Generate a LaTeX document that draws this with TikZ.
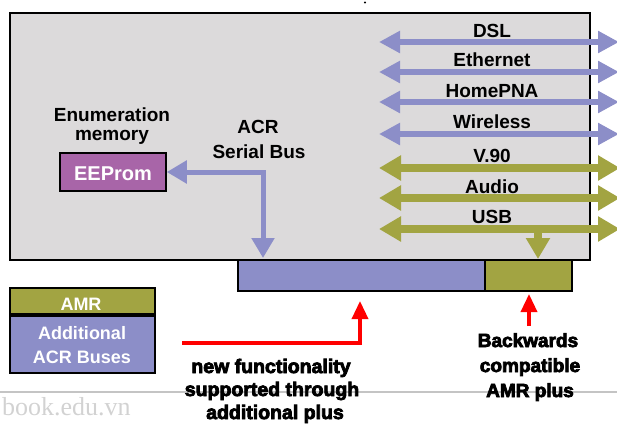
\documentclass[tikz,border=0pt]{standalone}
\usepackage{fontspec}
\setmainfont{Liberation Sans}
\newfontfamily\heavyfont[FakeBold=4]{Liberation Sans}
\newfontfamily\markfont{Liberation Serif}
\usetikzlibrary{arrows.meta}

\definecolor{busblue}{HTML}{8C8EC8}
\definecolor{amrgreen}{HTML}{A2A442}
\definecolor{eepurple}{HTML}{A865A8}
\definecolor{panelgray}{HTML}{DCDADB}
\definecolor{rulegray}{HTML}{C4C4C4}
\definecolor{markgray}{HTML}{D2D2D2}

\begin{document}
\begin{tikzpicture}[x=1pt,y=-1pt,
  lbl/.style={font=\fontsize{19}{22}\selectfont\bfseries, inner sep=0pt, anchor=base},
  whitelbl/.style={lbl, text=white},
  heavy/.style={font=\heavyfont\fontsize{19.5}{22}\selectfont\bfseries, inner sep=0pt, anchor=base},
  slotbox/.style={draw=black, line width=1.5pt, inner sep=0pt},
  legendbox/.style={draw=black, line width=2.5pt, inner sep=0pt, minimum width=145pt},
  bluebus/.style={draw=busblue, line width=6pt,
    {Triangle[length=21pt,width=21pt]}-{Triangle[length=21pt,width=21pt]}},
  greenbus/.style={draw=amrgreen, line width=8pt,
    {Triangle[length=22pt,width=24pt]}-{Triangle[length=22pt,width=24pt]}},
  serialbus/.style={draw=busblue, line width=5pt,
    {Triangle[length=20pt,width=22pt]}-{Triangle[length=20pt,width=22pt]}},
  drop/.style={draw=amrgreen, line width=8pt, -{Triangle[length=21pt,width=23pt]}},
  redarrow/.style={draw=red, line width=3.5pt, -{Triangle[length=18pt,width=16pt]}}
]
\useasboundingbox (0,0) rectangle (617,426);
\clip (0,0) rectangle (617,426);

% main card
\node[draw=black, line width=1.8pt, fill=panelgray, minimum width=580pt,
      minimum height=247pt, inner sep=0pt] (card) at (300,136.5) {};
\fill (365,2.5) circle (1.2pt);

% enumeration memory
\node[lbl] (enumA) at (112,121) {Enumeration};
\node[lbl] (enumB) at (112,140) {memory};
\node[slotbox, fill=eepurple, minimum width=106pt, minimum height=38pt] (eeprom) at (113,172) {};
\node[font=\fontsize{20}{22}\selectfont\bfseries, text=white, inner sep=0pt, anchor=base] (eetext) at (113,180) {EEProm};

\node[lbl] (acrA) at (258,133) {ACR};
\node[lbl] (acrB) at (259,158) {Serial Bus};

% expansion slots
\node[slotbox, fill=busblue, minimum width=247pt, minimum height=31pt] (acrslot) at (361.5,275.5) {};
\node[slotbox, fill=amrgreen, minimum width=87pt, minimum height=31pt] (amrslot) at (528.5,275.5) {};

% ACR serial bus to the EEPROM
\coordinate (acrdrop) at (263,258);
\draw[serialbus] (acrdrop) |- (eeprom.east);

% external interfaces
\foreach \name/\txt/\base/\y in {dsl/DSL/37/42, eth/Ethernet/66/72, hpna/HomePNA/97/102, wl/Wireless/128/134}{
  \node[lbl] (\name) at (492,\base) {\txt};
  \coordinate (\name L) at (379,\y);
  \coordinate (\name R) at (619,\y);
  \draw[bluebus] (\name L) -- (\name R);
}
\foreach \name/\txt/\base/\y in {vn/V.90/162/168, aud/Audio/193/198, usb/USB/223/229}{
  \node[lbl] (\name) at (492,\base) {\txt};
  \coordinate (\name L) at (379,\y);
  \coordinate (\name R) at (620,\y);
  \draw[greenbus] (\name L) -- (\name R);
}
\coordinate (usbtap) at (538,229);
\coordinate (usbdrop) at (538,259);
\draw[drop] (usbtap) -- (usbdrop);

% legend
\node[legendbox, fill=amrgreen, minimum height=26pt] (legamr) at (82.5,301) {};
\node[legendbox, fill=busblue, minimum height=57pt] (legacr) at (82.5,344.5) {};
\node[whitelbl, font=\fontsize{18}{20}\selectfont\bfseries] (legamrtxt) at (81,310) {AMR};
\node[whitelbl, font=\fontsize{18}{20}\selectfont\bfseries] (legacrA) at (82,339) {Additional};
\node[whitelbl, font=\fontsize{18}{20}\selectfont\bfseries] (legacrB) at (82,363) {ACR Buses};

% rule and site mark
\draw[rulegray, line width=1.5pt] (0,392) -- (617,392);
\node[font=\markfont\fontsize{26}{28}\selectfont, text=markgray, inner sep=0pt, anchor=base west] (mark) at (2,415) {book.edu.vn};

% callouts
\coordinate (redstart) at (182,343);
\coordinate (acrtarget) at (360,301);
\draw[redarrow] (redstart) -| (acrtarget);
\coordinate (amrfoot) at (529,326);
\coordinate (amrtarget) at (529,294);
\draw[redarrow] (amrfoot) -- (amrtarget);

\node[heavy] (newA) at (271,373) {new functionality};
\node[heavy] (newB) at (272,396) {supported through};
\node[heavy] (newC) at (275,419) {additional plus};
\node[heavy, font=\heavyfont\fontsize{19}{22}\selectfont\bfseries] (bwA) at (528,347) {Backwards};
\node[heavy, font=\heavyfont\fontsize{19}{22}\selectfont\bfseries] (bwB) at (530,372) {compatible};
\node[heavy, font=\heavyfont\fontsize{19}{22}\selectfont\bfseries] (bwC) at (530,397) {AMR plus};
\end{tikzpicture}
\end{document}
